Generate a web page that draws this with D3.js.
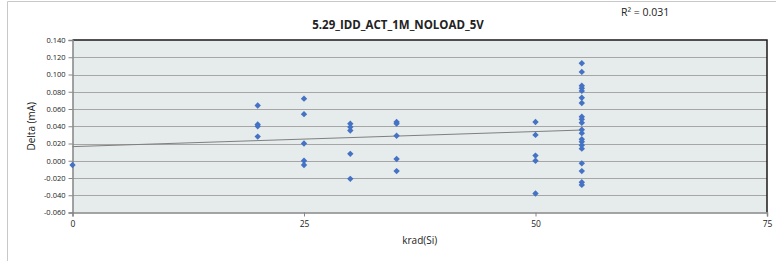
<!DOCTYPE html>
<html>
<head>
<meta charset="utf-8">
<script src="https://cdn.jsdelivr.net/npm/d3@7"></script>
<style>
  body { margin: 0; background: #fff; }
  text { font-family: "Liberation Sans Narrow", "Open Sans", sans-serif; }
</style>
</head>
<body>
<svg id="chart" width="776" height="261"></svg>
<script>
// chart data
var title = "5.29_IDD_ACT_1M_NOLOAD_5V";
var xTicks = [0, 25, 50, 75];
var yTicks = [-0.06, -0.04, -0.02, 0, 0.02, 0.04, 0.06, 0.08, 0.1, 0.12, 0.14];

var dose0  = [-0.005];
var dose20 = [0.064, 0.042, 0.040, 0.028];
var dose25 = [0.072, 0.054, 0.020, 0.000, -0.005];
var dose30 = [0.043, 0.039, 0.035, 0.008, -0.021];
var dose35 = [0.045, 0.043, 0.029, 0.002, -0.012];
var dose50 = [0.045, 0.030, 0.006, 0.000, -0.038];
var dose55 = [0.113, 0.103, 0.087, 0.084, 0.081, 0.073, 0.067, 0.051, 0.048, 0.044,
              0.036, 0.032, 0.025, 0.022, 0.018, 0.014, -0.003, -0.012, -0.025, -0.028];

var groups = [[0, dose0], [20, dose20], [25, dose25], [30, dose30], [35, dose35], [50, dose50], [55, dose55]];
var points = [];
groups.forEach(function (g) {
  g[1].forEach(function (v) { points.push({ x: g[0], y: v }); });
});

var svg = d3.select("#chart");

// outer chart-area border (cropped on right / bottom)
svg.append("path")
   .attr("d", "M7.5,261 V1.5 H776")
   .attr("fill", "none")
   .attr("stroke", "#c8c8c8")
   .attr("stroke-width", 1);

// plot area bounds (don't use "top" - clashes with window.top)
var pLeft = 72.5, pRight = 767, pTop = 40, pBottom = 212.5;
var x = d3.scaleLinear().domain([0, 75]).range([pLeft, pRight]);
var y = d3.scaleLinear().domain([-0.06, 0.14]).range([pBottom, pTop]);

// plot area
svg.append("rect")
   .attr("x", pLeft).attr("y", pTop)
   .attr("width", pRight - pLeft).attr("height", pBottom - pTop)
   .attr("fill", "#e6ebeb");

// gridlines
svg.append("g")
   .selectAll("line")
   .data(yTicks.slice(1, -1))
   .join("line")
   .attr("x1", pLeft).attr("x2", pRight)
   .attr("y1", function (d) { return Math.round(y(d)) + 0.5; })
   .attr("y2", function (d) { return Math.round(y(d)) + 0.5; })
   .attr("stroke", "#a6a6a6")
   .attr("stroke-width", 1);

// top + right border (dark)
svg.append("path")
   .attr("d", "M" + pLeft + "," + pTop + " H" + pRight + " V" + pBottom)
   .attr("fill", "none")
   .attr("stroke", "#1a1a1a")
   .attr("stroke-width", 1.5);

// axes
var yAxis = d3.axisLeft(y).tickValues(yTicks).tickFormat(d3.format(".3f")).tickSize(4).tickPadding(3);
var gy = svg.append("g").attr("transform", "translate(" + pLeft + ",0)").call(yAxis);
gy.select(".domain").attr("stroke", "#868686").attr("stroke-width", 1.5);
gy.selectAll(".tick line").attr("stroke", "#868686");
gy.selectAll(".tick text")
  .attr("font-family", "Liberation Sans, Arial, sans-serif")
  .attr("font-size", 7.5).attr("fill", "#222")
  .text(function (d) { return d3.format(".3f")(d).replace("−", "-"); });

var xAxis = d3.axisBottom(x).tickValues(xTicks).tickFormat(d3.format("d")).tickSize(4).tickPadding(4);
var gx = svg.append("g").attr("transform", "translate(0," + pBottom + ")").call(xAxis);
gx.select(".domain").attr("stroke", "#868686").attr("stroke-width", 1.5);
gx.selectAll(".tick line").attr("stroke", "#868686");
gx.selectAll(".tick text").attr("font-size", 8.5).attr("fill", "#222");

// linear trendline (least squares over the data range)
var mx = d3.mean(points, function (p) { return p.x; });
var my = d3.mean(points, function (p) { return p.y; });
var sxy = d3.sum(points, function (p) { return (p.x - mx) * (p.y - my); });
var sxx = d3.sum(points, function (p) { return (p.x - mx) * (p.x - mx); });
var slope = sxy / sxx, icpt = my - slope * mx;
var xExt = d3.extent(points, function (p) { return p.x; });
svg.append("line")
   .attr("x1", x(xExt[0])).attr("y1", y(icpt + slope * xExt[0]))
   .attr("x2", x(xExt[1])).attr("y2", y(icpt + slope * xExt[1]))
   .attr("stroke", "#7f7f7f")
   .attr("stroke-width", 1);

// diamond markers
var diamond = d3.symbol().type(d3.symbolDiamond2).size(26);
svg.append("g")
   .selectAll("path")
   .data(points)
   .join("path")
   .attr("transform", function (p) { return "translate(" + x(p.x) + "," + y(p.y) + ")"; })
   .attr("d", diamond)
   .attr("fill", "#4472c4");

// titles
svg.append("text")
   .attr("x", 398).attr("y", 29)
   .attr("text-anchor", "middle")
   .attr("font-size", 11.5).attr("font-weight", "bold").attr("fill", "#222")
   .text(title);

svg.append("text")
   .attr("x", 621).attr("y", 16)
   .attr("font-size", 10.5).attr("fill", "#222")
   .text("R² = 0.031");

svg.append("text")
   .attr("transform", "translate(35," + ((pTop + pBottom) / 2) + ") rotate(-90)")
   .attr("text-anchor", "middle")
   .attr("font-family", "Liberation Sans, Arial, sans-serif")
   .attr("font-size", 10).attr("fill", "#222")
   .text("Delta (mA)");

svg.append("text")
   .attr("x", (pLeft + pRight) / 2).attr("y", 244)
   .attr("text-anchor", "middle")
   .attr("font-size", 10).attr("fill", "#222")
   .text("krad(Si)");
</script>
</body>
</html>
